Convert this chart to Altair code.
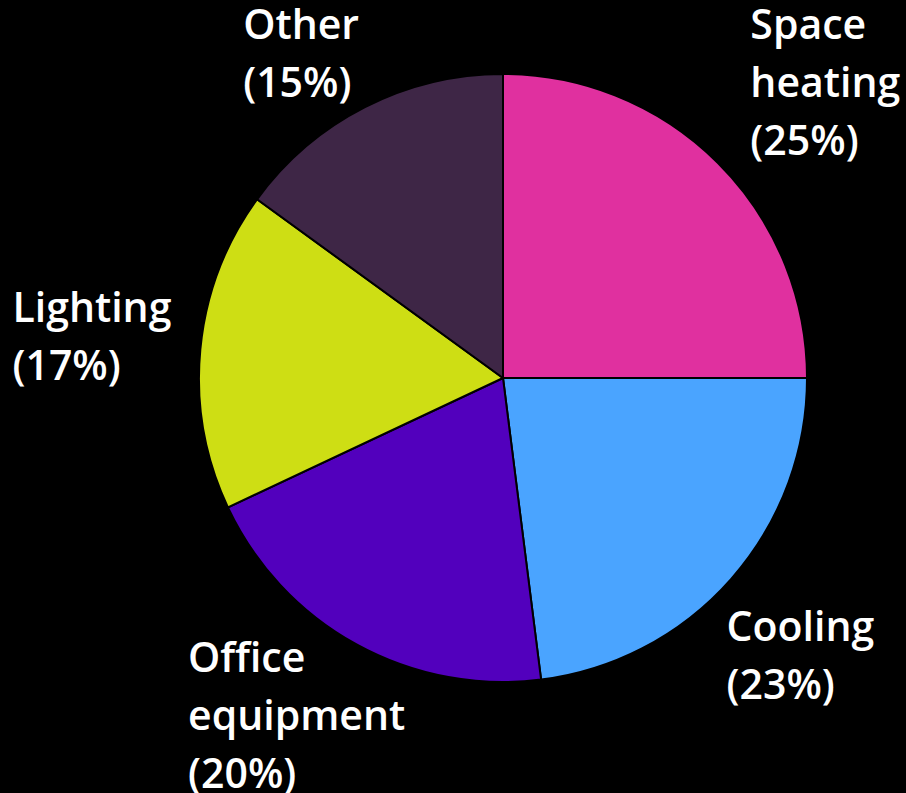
import altair as alt
import pandas as pd

categories = ["Space heating", "Cooling", "Office equipment", "Lighting", "Other"]
labels = ["Space\nheating\n(25%)", "Cooling\n(23%)", "Office\nequipment\n(20%)", "Lighting\n(17%)", "Other\n(15%)"]
shares = [25, 23, 20, 17, 15]
order = [1, 2, 3, 4, 5]
colors = ["#E0309F", "#4AA4FF", "#5200BD", "#CEDE14", "#3E2646"]

df = pd.DataFrame({"category": categories, "label": labels, "share": shares, "order": order})

R = 304
tscale = alt.Scale(domain=[0, 100])

arcs = alt.Chart(df).mark_arc(outerRadius=R, stroke="black", strokeWidth=2).encode(
    theta=alt.Theta("share:Q", stack=True, scale=tscale),
    order=alt.Order("order:Q"),
    color=alt.Color("category:N", scale=alt.Scale(domain=categories, range=colors), legend=None),
)

text_base = alt.Chart(df).transform_window(
    cum="sum(share)", sort=[alt.SortField("order")]
).transform_calculate(mid="datum.cum - datum.share / 2")

offsets = {
    "Space heating": (14, -138),
    "Cooling": (-24, 13),
    "Office equipment": (-156, -27),
    "Lighting": (-162, -57),
    "Other": (-110, -77),
}

text_layers = []
for cat in categories:
    dx, dy = offsets[cat]
    t = text_base.transform_filter(alt.datum.category == cat).mark_text(
        radius=330, align="left", baseline="top", dx=dx, dy=dy,
        font="Open Sans", fontWeight=600, fontSize=41, lineHeight=58,
        lineBreak="\n", color="white",
    ).encode(theta=alt.Theta("mid:Q", scale=tscale), text="label:N")
    text_layers.append(t)

chart = alt.layer(arcs, *text_layers).properties(
    width=608, height=608,
    padding={"left": 199, "top": 74, "right": 99, "bottom": 111},
    autosize=alt.AutoSizeParams(type="none"),
    background="black",
).configure_view(stroke=None)

chart.save("out.html", embed_options={"renderer": "svg", "actions": False})
